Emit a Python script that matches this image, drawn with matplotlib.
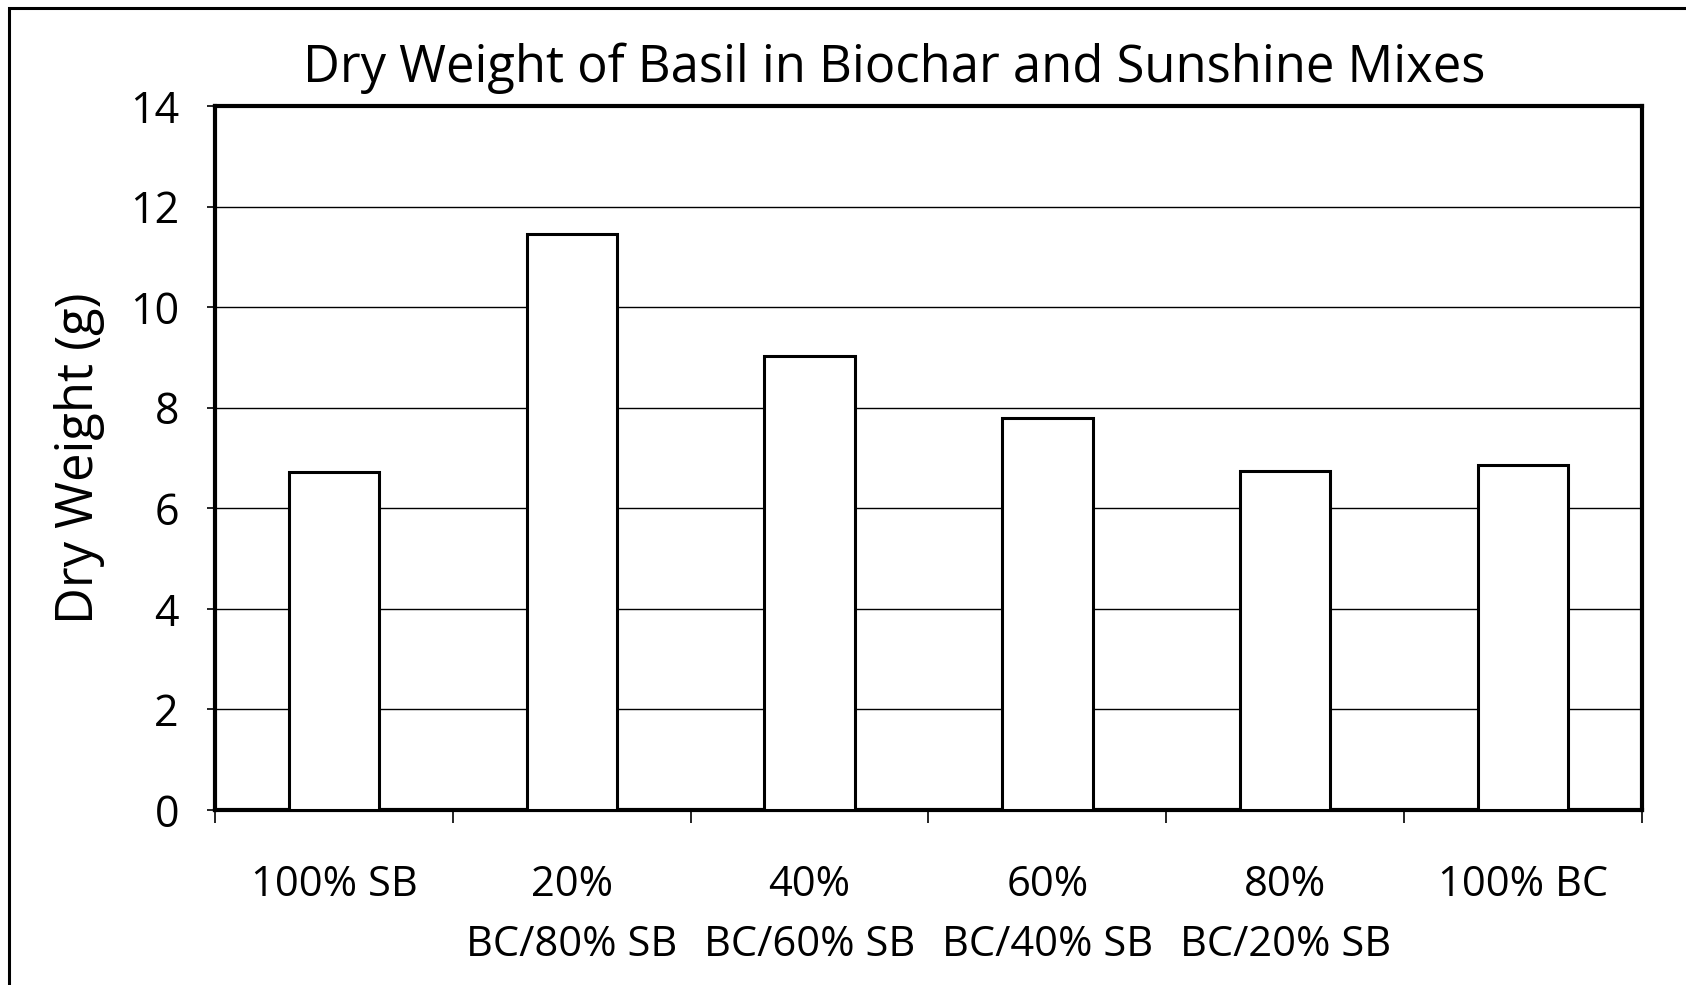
import numpy as np
import matplotlib
matplotlib.use("Agg")
import matplotlib.pyplot as plt
from matplotlib.patches import Rectangle

# data
categories = ["100% SB", "20%\nBC/80% SB", "40%\nBC/60% SB",
              "60%\nBC/40% SB", "80%\nBC/20% SB", "100% BC"]
dry_weight = [6.72, 11.45, 9.03, 7.79, 6.74, 6.87]
y_ticks = [0, 2, 4, 6, 8, 10, 12, 14]

plt.rcParams['font.family'] = ['Open Sans', 'DejaVu Sans']
plt.rcParams['font.weight'] = 500

W, H = 1686, 985
fig = plt.figure(figsize=(W / 100, H / 100), dpi=100)
ax = fig.add_axes([215 / W, 1 - 810 / H, (1642 - 215) / W, (810 - 106) / H])

x = np.arange(len(categories))
ax.bar(x, dry_weight, width=0.38, color="white", edgecolor="black",
       linewidth=2.2, zorder=3)

ax.set_xlim(-0.5, len(categories) - 0.5)
ax.set_ylim(0, 14)
ax.set_yticks(y_ticks)
ax.set_yticklabels([str(v) for v in y_ticks], fontsize=31)
ax.yaxis.grid(True, color="black", linewidth=1.0, zorder=0)
ax.set_axisbelow(True)

# category labels centred under bars, ticks on the boundaries
ax.set_xticks(x)
ax.set_xticklabels(categories, fontsize=30, linespacing=1.55, va="top")
ax.tick_params(axis="x", length=0, pad=39)
ax.set_xticks(np.arange(-0.5, len(categories)), minor=True)
ax.tick_params(axis="x", which="minor", length=9, width=1.2, direction="out")
ax.tick_params(axis="y", length=6, width=1.2, direction="out", pad=20)

for s in ax.spines.values():
    s.set_linewidth(3)

ax.set_ylabel("Dry Weight (g)", fontsize=36.5)
ax.yaxis.set_label_coords(-0.077, 0.5)
ax.set_title("Dry Weight of Basil in Biochar and Sunshine Mixes",
             fontsize=36.5, x=0.476, y=1.0, pad=17)

# outer chart frame (clipped at right and bottom in the original)
fig.patches.append(Rectangle((9 / W, -0.05), 1.2, 1 - 8 / H + 0.05,
                             transform=fig.transFigure, fill=False,
                             edgecolor="black", linewidth=2.2))

fig.savefig("out.png", dpi=100)
